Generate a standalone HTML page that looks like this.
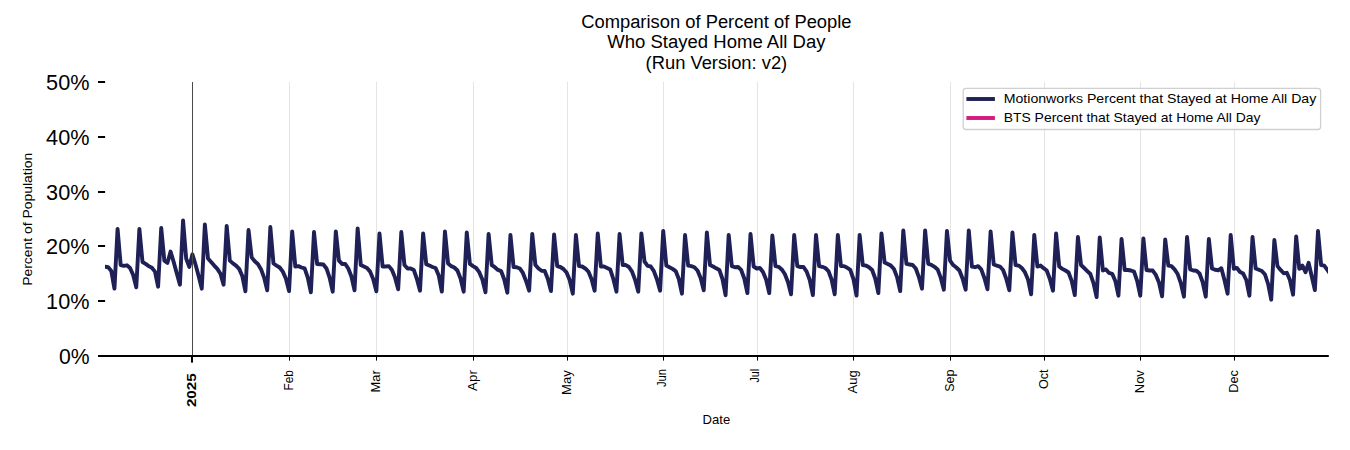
<!DOCTYPE html>
<html lang="en">
<head>
<meta charset="utf-8">
<title>Comparison of Percent of People Who Stayed Home All Day</title>
<style>
html,body{margin:0;padding:0;background:#fff;}
body{width:1350px;height:450px;overflow:hidden;font-family:"Liberation Sans",sans-serif;}
svg{display:block;}
text{font-family:"Liberation Sans",sans-serif;fill:#000;}
</style>
</head>
<body>
<svg width="1350" height="450" viewBox="0 0 1350 450">
<rect x="0" y="0" width="1350" height="450" fill="#ffffff"/>
<defs><clipPath id="ax"><rect x="105.1" y="82.0" width="1222.9" height="274.0"/></clipPath></defs>

<g stroke="#e4e4e4" stroke-width="1" shape-rendering="crispEdges">
<line x1="289.5" y1="82.0" x2="289.5" y2="356.0"/>
<line x1="376.5" y1="82.0" x2="376.5" y2="356.0"/>
<line x1="473.5" y1="82.0" x2="473.5" y2="356.0"/>
<line x1="567.5" y1="82.0" x2="567.5" y2="356.0"/>
<line x1="663.5" y1="82.0" x2="663.5" y2="356.0"/>
<line x1="757.5" y1="82.0" x2="757.5" y2="356.0"/>
<line x1="853.5" y1="82.0" x2="853.5" y2="356.0"/>
<line x1="950.5" y1="82.0" x2="950.5" y2="356.0"/>
<line x1="1044.5" y1="82.0" x2="1044.5" y2="356.0"/>
<line x1="1140.5" y1="82.0" x2="1140.5" y2="356.0"/>
<line x1="1234.5" y1="82.0" x2="1234.5" y2="356.0"/>
</g>
<path d="M105.10 266.68 L108.21 267.22 L111.33 271.06 L114.45 288.65 L117.57 228.86 L120.69 265.03 L123.80 265.85 L126.92 265.31 L130.04 268.05 L133.16 274.90 L136.28 287.25 L139.39 228.86 L142.51 262.02 L145.63 263.94 L148.75 266.13 L151.87 267.77 L154.98 271.61 L158.10 286.65 L161.22 228.06 L164.34 260.65 L167.46 262.84 L170.57 251.61 L173.69 262.02 L176.81 273.53 L179.93 284.65 L183.05 220.46 L186.16 258.46 L189.28 266.95 L192.40 254.35 L195.52 264.48 L198.64 275.99 L201.75 288.65 L204.87 224.46 L207.99 258.46 L211.11 262.02 L214.23 265.58 L217.34 268.87 L220.46 273.80 L223.58 284.65 L226.70 225.86 L229.82 260.65 L232.93 263.39 L236.05 265.58 L239.17 268.87 L242.29 275.99 L245.41 291.25 L248.52 230.06 L251.64 257.36 L254.76 261.20 L257.88 263.94 L261.00 269.14 L264.11 277.64 L267.23 290.25 L270.35 227.06 L273.47 263.50 L276.59 265.58 L279.70 267.50 L282.82 271.61 L285.94 278.73 L289.06 291.05 L292.18 231.46 L295.29 266.51 L298.41 266.13 L301.53 267.50 L304.65 268.48 L307.77 277.64 L310.88 292.25 L314.00 232.06 L317.12 263.94 L320.24 264.21 L323.36 264.48 L326.47 268.48 L329.59 277.64 L332.71 291.65 L335.83 231.46 L338.95 260.65 L342.06 263.94 L345.18 263.94 L348.30 268.48 L351.42 276.54 L354.54 290.25 L357.65 228.46 L360.77 265.03 L363.89 266.51 L367.01 267.99 L370.13 271.61 L373.24 279.28 L376.36 291.25 L379.48 233.46 L382.60 266.51 L385.72 266.51 L388.83 266.13 L391.95 269.96 L395.07 277.64 L398.19 289.25 L401.31 232.06 L404.42 265.03 L407.54 268.48 L410.66 268.48 L413.78 269.96 L416.90 279.01 L420.01 290.65 L423.13 233.46 L426.25 264.21 L429.37 265.58 L432.49 267.00 L435.60 267.99 L438.72 275.44 L441.84 291.65 L444.96 231.46 L448.08 263.50 L451.19 266.13 L454.31 267.50 L457.43 270.51 L460.55 278.51 L463.67 291.65 L466.78 232.46 L469.90 263.94 L473.02 266.13 L476.14 267.99 L479.26 272.16 L482.37 279.50 L485.49 292.25 L488.61 233.86 L491.73 265.03 L494.85 267.22 L497.96 269.96 L501.08 271.06 L504.20 279.28 L507.32 292.65 L510.44 234.86 L513.55 267.00 L516.67 267.22 L519.79 268.48 L522.91 272.98 L526.03 280.92 L529.14 290.65 L532.26 233.86 L535.38 265.03 L538.50 268.48 L541.62 270.79 L544.73 271.06 L547.85 279.01 L550.97 291.05 L554.09 234.46 L557.21 266.13 L560.32 267.00 L563.44 268.98 L566.56 272.48 L569.68 279.99 L572.80 293.65 L575.91 235.06 L579.03 266.13 L582.15 266.51 L585.27 268.48 L588.39 271.61 L591.50 279.01 L594.62 290.65 L597.74 233.46 L600.86 266.51 L603.98 266.51 L607.09 267.99 L610.21 269.42 L613.33 279.01 L616.45 291.65 L619.57 234.06 L622.68 265.03 L625.80 265.03 L628.92 267.00 L632.04 271.61 L635.16 279.99 L638.27 291.65 L641.39 233.46 L644.51 261.52 L647.63 265.80 L650.75 266.51 L653.86 271.06 L656.98 279.50 L660.10 290.65 L663.22 230.86 L666.34 265.58 L669.45 267.22 L672.57 268.87 L675.69 271.06 L678.81 279.01 L681.93 293.65 L685.04 235.06 L688.16 265.58 L691.28 266.13 L694.40 267.22 L697.52 270.51 L700.63 278.02 L703.75 290.25 L706.87 232.46 L709.99 265.03 L713.11 266.51 L716.22 268.32 L719.34 269.96 L722.46 279.01 L725.58 295.25 L728.70 234.86 L731.81 266.13 L734.93 267.22 L738.05 267.00 L741.17 269.96 L744.29 278.51 L747.40 293.05 L750.52 233.86 L753.64 266.51 L756.76 268.48 L759.88 267.99 L762.99 271.99 L766.11 279.50 L769.23 293.05 L772.35 235.46 L775.47 266.13 L778.58 266.79 L781.70 269.42 L784.82 274.02 L787.94 282.02 L791.06 294.25 L794.17 235.06 L797.29 266.13 L800.41 267.00 L803.53 267.00 L806.65 271.61 L809.76 279.99 L812.88 295.05 L816.00 235.06 L819.12 266.13 L822.24 266.79 L825.35 267.99 L828.47 271.06 L831.59 279.50 L834.71 294.25 L837.83 235.06 L840.94 266.13 L844.06 266.13 L847.18 267.77 L850.30 269.96 L853.42 279.01 L856.53 295.65 L859.65 234.86 L862.77 265.03 L865.89 265.58 L869.01 267.22 L872.12 269.96 L875.24 278.51 L878.36 293.05 L881.48 233.46 L884.60 262.51 L887.71 263.94 L890.83 265.58 L893.95 268.98 L897.07 277.09 L900.19 291.05 L903.30 230.46 L906.42 263.94 L909.54 264.48 L912.66 265.03 L915.78 268.48 L918.89 277.09 L922.01 288.65 L925.13 230.46 L928.25 263.94 L931.37 264.81 L934.48 266.79 L937.60 269.42 L940.72 277.64 L943.84 289.65 L946.96 230.86 L950.07 260.65 L953.19 265.03 L956.31 267.50 L959.43 270.51 L962.55 278.51 L965.66 289.65 L968.78 230.46 L971.90 266.51 L975.02 267.22 L978.14 266.13 L981.25 269.42 L984.37 278.02 L987.49 289.25 L990.61 231.46 L993.73 264.48 L996.84 265.58 L999.96 266.51 L1003.08 269.96 L1006.20 278.51 L1009.32 290.25 L1012.43 232.46 L1015.55 265.03 L1018.67 265.58 L1021.79 267.99 L1024.91 272.16 L1028.02 279.50 L1031.14 294.25 L1034.26 234.86 L1037.38 266.51 L1040.50 265.58 L1043.61 268.16 L1046.73 270.51 L1049.85 279.01 L1052.97 290.65 L1056.09 233.46 L1059.20 266.51 L1062.32 268.87 L1065.44 270.51 L1068.56 272.48 L1071.68 280.92 L1074.79 295.05 L1077.91 237.06 L1081.03 265.03 L1084.15 267.99 L1087.27 271.06 L1090.38 274.02 L1093.50 283.12 L1096.62 297.05 L1099.74 237.46 L1102.86 270.51 L1105.97 269.42 L1109.09 272.98 L1112.21 273.80 L1115.33 280.92 L1118.45 295.65 L1121.56 238.86 L1124.68 269.96 L1127.80 269.96 L1130.92 270.51 L1134.04 271.61 L1137.15 280.92 L1140.27 295.65 L1143.39 238.46 L1146.51 269.96 L1149.63 270.51 L1152.74 270.51 L1155.86 274.90 L1158.98 282.57 L1162.10 296.25 L1165.22 239.46 L1168.33 265.58 L1171.45 266.13 L1174.57 269.42 L1177.69 274.02 L1180.81 283.12 L1183.92 296.65 L1187.04 237.06 L1190.16 269.42 L1193.28 270.51 L1196.40 270.79 L1199.51 273.53 L1202.63 282.02 L1205.75 296.65 L1208.87 238.86 L1211.99 268.48 L1215.10 269.80 L1218.22 270.29 L1221.34 268.21 L1224.46 279.99 L1227.58 293.65 L1230.69 234.86 L1233.81 268.87 L1236.93 267.99 L1240.05 271.99 L1243.17 273.53 L1246.28 279.99 L1249.40 295.65 L1252.52 237.06 L1255.64 268.48 L1258.76 269.80 L1261.87 271.06 L1264.99 274.51 L1268.11 283.99 L1271.23 299.65 L1274.35 240.06 L1277.46 266.13 L1280.58 269.96 L1283.70 273.25 L1286.82 272.81 L1289.94 279.99 L1293.05 294.65 L1296.17 236.46 L1299.29 268.87 L1302.41 265.58 L1305.53 272.16 L1308.64 262.84 L1311.76 276.54 L1314.88 290.05 L1318.00 231.06 L1321.12 265.03 L1324.23 265.58 L1327.35 269.96 L1330.47 274.35" fill="none" stroke="#1e2056" stroke-width="3.9" stroke-linejoin="round" stroke-linecap="square" clip-path="url(#ax)"/>
<rect x="192" y="82" width="1" height="273" fill="#4a4a4a"/>
<rect x="98" y="355" width="1230.8" height="2" fill="#000"/>
<rect x="98" y="355" width="7.1" height="2" fill="#000"/>
<rect x="98" y="300" width="7.1" height="2" fill="#000"/>
<rect x="98" y="245" width="7.1" height="2" fill="#000"/>
<rect x="98" y="191" width="7.1" height="2" fill="#000"/>
<rect x="98" y="136" width="7.1" height="2" fill="#000"/>
<rect x="98" y="81" width="7.1" height="2" fill="#000"/>
<rect x="191" y="356" width="2" height="6.6" fill="#000"/>
<rect x="289.0" y="356" width="1" height="4.6" fill="#000"/>
<rect x="376.0" y="356" width="1" height="4.6" fill="#000"/>
<rect x="473.0" y="356" width="1" height="4.6" fill="#000"/>
<rect x="567.0" y="356" width="1" height="4.6" fill="#000"/>
<rect x="663.0" y="356" width="1" height="4.6" fill="#000"/>
<rect x="757.0" y="356" width="1" height="4.6" fill="#000"/>
<rect x="853.0" y="356" width="1" height="4.6" fill="#000"/>
<rect x="950.0" y="356" width="1" height="4.6" fill="#000"/>
<rect x="1044.0" y="356" width="1" height="4.6" fill="#000"/>
<rect x="1140.0" y="356" width="1" height="4.6" fill="#000"/>
<rect x="1234.0" y="356" width="1" height="4.6" fill="#000"/>
<text x="89.5" y="363.9" font-size="22.6" text-anchor="end" textLength="30.6" lengthAdjust="spacingAndGlyphs">0%</text>
<text x="89.5" y="308.9" font-size="22.6" text-anchor="end" textLength="43.4" lengthAdjust="spacingAndGlyphs">10%</text>
<text x="89.5" y="253.9" font-size="22.6" text-anchor="end" textLength="43.4" lengthAdjust="spacingAndGlyphs">20%</text>
<text x="89.5" y="199.9" font-size="22.6" text-anchor="end" textLength="43.4" lengthAdjust="spacingAndGlyphs">30%</text>
<text x="89.5" y="144.9" font-size="22.6" text-anchor="end" textLength="43.4" lengthAdjust="spacingAndGlyphs">40%</text>
<text x="89.5" y="89.9" font-size="22.6" text-anchor="end" textLength="43.4" lengthAdjust="spacingAndGlyphs">50%</text>
<text transform="translate(32.2 219.3) rotate(-90)" font-size="13.2" text-anchor="middle" textLength="133" lengthAdjust="spacingAndGlyphs">Percent of Population</text>
<text transform="translate(195.8 373.3) rotate(-90)" font-size="13" font-weight="bold" text-anchor="end" textLength="33.8" lengthAdjust="spacingAndGlyphs">2025</text>
<text transform="translate(293.0 370.2) rotate(-90)" font-size="12.2" text-anchor="end" textLength="20.4" lengthAdjust="spacingAndGlyphs">Feb</text>
<text transform="translate(380.3 370.2) rotate(-90)" font-size="12.2" text-anchor="end" textLength="22.2" lengthAdjust="spacingAndGlyphs">Mar</text>
<text transform="translate(476.9 370.2) rotate(-90)" font-size="12.2" text-anchor="end" textLength="20.7" lengthAdjust="spacingAndGlyphs">Apr</text>
<text transform="translate(570.5 370.2) rotate(-90)" font-size="12.2" text-anchor="end" textLength="24.8" lengthAdjust="spacingAndGlyphs">May</text>
<text transform="translate(665.8 368.9) rotate(-90)" font-size="12.2" text-anchor="end" textLength="18.2" lengthAdjust="spacingAndGlyphs">Jun</text>
<text transform="translate(759.4 368.9) rotate(-90)" font-size="12.2" text-anchor="end" textLength="13.6" lengthAdjust="spacingAndGlyphs">Jul</text>
<text transform="translate(856.9 370.2) rotate(-90)" font-size="12.2" text-anchor="end" textLength="23.2" lengthAdjust="spacingAndGlyphs">Aug</text>
<text transform="translate(954.0 369.6) rotate(-90)" font-size="12.2" text-anchor="end" textLength="22.2" lengthAdjust="spacingAndGlyphs">Sep</text>
<text transform="translate(1047.5 369.5) rotate(-90)" font-size="12.2" text-anchor="end" textLength="19.6" lengthAdjust="spacingAndGlyphs">Oct</text>
<text transform="translate(1144.2 370.2) rotate(-90)" font-size="12.2" text-anchor="end" textLength="23.0" lengthAdjust="spacingAndGlyphs">Nov</text>
<text transform="translate(1237.7 370.2) rotate(-90)" font-size="12.2" text-anchor="end" textLength="22.6" lengthAdjust="spacingAndGlyphs">Dec</text>
<text x="716.4" y="423.7" font-size="12.2" text-anchor="middle" textLength="27.6" lengthAdjust="spacingAndGlyphs">Date</text>
<text x="716.4" y="28.0" font-size="17.6" text-anchor="middle" textLength="270.4" lengthAdjust="spacingAndGlyphs">Comparison of Percent of People</text>
<text x="716.4" y="47.6" font-size="17.6" text-anchor="middle" textLength="218.2" lengthAdjust="spacingAndGlyphs">Who Stayed Home All Day</text>
<text x="716.4" y="68.5" font-size="17.6" text-anchor="middle" textLength="141.6" lengthAdjust="spacingAndGlyphs">(Run Version: v2)</text>
<rect x="963.2" y="88.3" width="357.4" height="41.2" rx="2.8" ry="2.8" fill="#ffffff" fill-opacity="0.8" stroke="#d0d0d0" stroke-width="1.3"/>
<line x1="966.4" y1="99" x2="994.9" y2="99" stroke="#1e2056" stroke-width="3.9"/>
<line x1="966.4" y1="118" x2="994.9" y2="118" stroke="#d4197f" stroke-width="3.9"/>
<text x="1003.7" y="103" font-size="13.2" textLength="312.6" lengthAdjust="spacingAndGlyphs">Motionworks Percent that Stayed at Home All Day</text>
<text x="1003.7" y="121.8" font-size="13.2" textLength="256.8" lengthAdjust="spacingAndGlyphs">BTS Percent that Stayed at Home All Day</text>
</svg>
</body>
</html>
